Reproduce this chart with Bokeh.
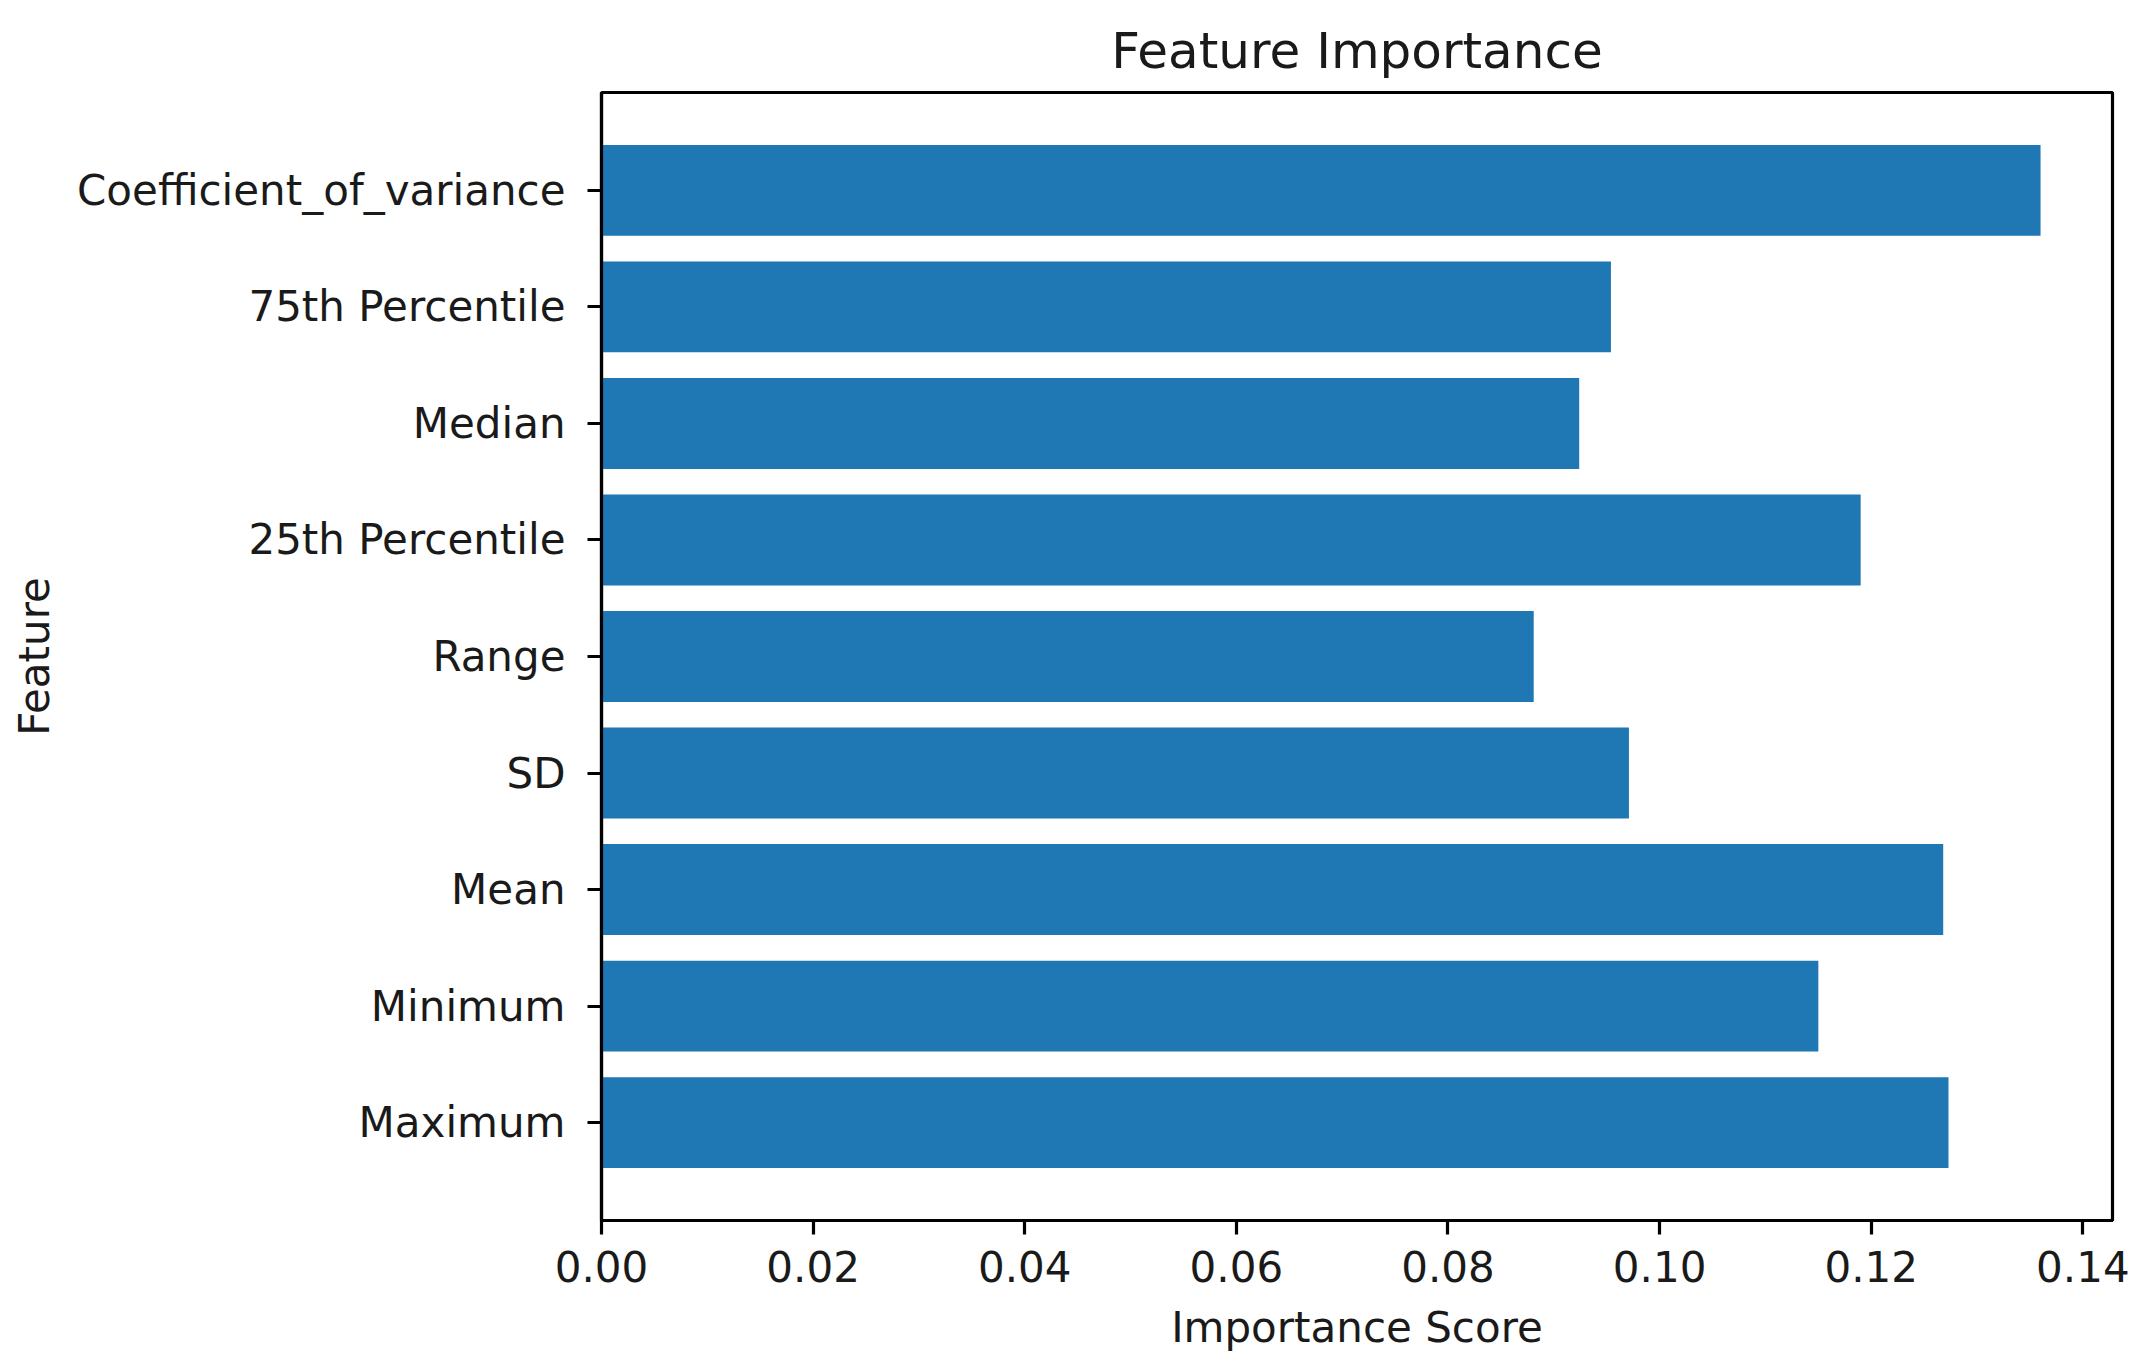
from bokeh.plotting import figure
from bokeh.models import Range1d, FactorRange, FixedTicker, NumeralTickFormatter
from bokeh.embed import file_html
from bokeh.resources import INLINE

features = ["Maximum", "Minimum", "Mean", "SD", "Range", "25th Percentile",
            "Median", "75th Percentile", "Coefficient_of_variance"]
importance = [0.1273, 0.1150, 0.1268, 0.0971, 0.0881, 0.1190, 0.0924, 0.0954, 0.1360]
x_ticks = [0.00, 0.02, 0.04, 0.06, 0.08, 0.10, 0.12, 0.14]

FONT = "DejaVu Sans"
TXT = "#1a1a1a"

p = figure(width=2134, height=1356, output_backend="svg", toolbar_location=None,
           y_range=FactorRange(factors=features, range_padding=0.34, range_padding_units="absolute"),
           x_range=Range1d(0, max(importance) * 1.05),
           min_border_left=601, min_border_right=22, min_border_top=92, min_border_bottom=136,
           title="Feature Importance")

p.hbar(y=features, right=importance, left=0, height=0.78, color="#1f77b4", line_color=None)

p.title.text_font = FONT
p.title.text_font_size = "50px"
p.title.text_font_style = "normal"
p.title.text_color = TXT
p.title.align = "center"
p.title.standoff = 26

p.xgrid.visible = False
p.ygrid.visible = False
p.outline_line_color = "#000000"
p.outline_line_width = 3.2
p.outline_line_alpha = 1.0

for ax in (p.xaxis[0], p.yaxis[0]):
    ax.axis_line_width = 3.2
    ax.axis_line_color = "#000000"
    ax.major_tick_line_width = 3.2
    ax.major_tick_line_color = "#000000"
    ax.major_tick_out = 14
    ax.major_tick_in = 0
    ax.minor_tick_line_color = None
    ax.major_label_text_font = FONT
    ax.major_label_text_font_size = "42px"
    ax.major_label_text_color = TXT
    ax.axis_label_text_font = FONT
    ax.axis_label_text_font_size = "42px"
    ax.axis_label_text_font_style = "normal"
    ax.axis_label_text_color = TXT

p.xaxis.ticker = FixedTicker(ticks=x_ticks)
p.xaxis.formatter = NumeralTickFormatter(format="0.00")
p.xaxis.axis_label = "Importance Score"
p.xaxis.major_label_standoff = 16
p.xaxis.axis_label_standoff = 18
p.yaxis.axis_label = "Feature"
p.yaxis.major_label_standoff = 22
p.yaxis.axis_label_standoff = 15

open("out.html", "w").write(file_html(p, INLINE))
